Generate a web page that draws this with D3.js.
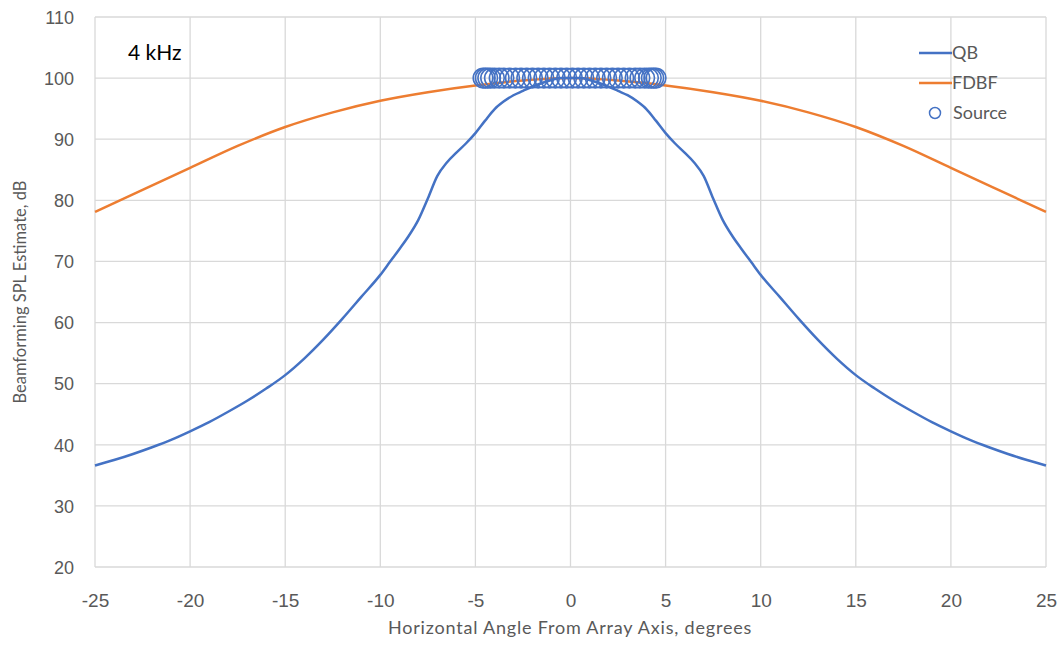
<!DOCTYPE html>
<html>
<head>
<meta charset="utf-8">
<script src="https://cdn.jsdelivr.net/npm/d3@7/dist/d3.min.js"></script>
<style>
  html, body { margin: 0; padding: 0; background: #fff; }
  svg { display: block; }
</style>
</head>
<body>
<svg id="chart" width="1062" height="654"></svg>
<script>
// ---- data ----
const xTicks = [-25, -20, -15, -10, -5, 0, 5, 10, 15, 20, 25];
const yTicks = [20, 30, 40, 50, 60, 70, 80, 90, 100, 110];

const qbAngles = [-25, -24, -23, -22, -21, -20, -19, -18, -17, -16, -15, -14, -13, -12, -11, -10, -9.5, -9, -8.5, -8, -7.5, -7, -6.5, -6, -5.5, -5, -4.5, -4, -3.5, -3, -2.5, -2, -1.5, -1, -0.5, 0,
                  0.5, 1, 1.5, 2, 2.5, 3, 3.5, 4, 4.5, 5, 5.5, 6, 6.5, 7, 7.5, 8, 8.5, 9, 9.5, 10, 11, 12, 13, 14, 15, 16, 17, 18, 19, 20, 21, 22, 23, 24, 25];
const qbValues = [36.6, 37.5, 38.5, 39.6, 40.8, 42.2, 43.7, 45.4, 47.2, 49.2, 51.4, 54.1, 57.2, 60.6, 64.2, 67.8, 69.9, 72.0, 74.2, 76.8, 80.3, 84.0, 86.2, 87.8, 89.3, 91.0, 93.0, 94.9, 96.2, 97.2, 97.9, 98.6, 99.2, 99.7, 100.0, 100.0,
                  100.0, 99.7, 99.2, 98.6, 97.9, 97.2, 96.2, 94.9, 93.0, 91.0, 89.3, 87.8, 86.2, 84.0, 80.3, 76.8, 74.2, 72.0, 69.9, 67.8, 64.2, 60.6, 57.2, 54.1, 51.4, 49.2, 47.2, 45.4, 43.7, 42.2, 40.8, 39.6, 38.5, 37.5, 36.6];

const fdbfAngles = [-25, -22.5, -20, -17.5, -15, -12.5, -10, -7.5, -5, -2.5, 0, 2.5, 5, 7.5, 10, 12.5, 15, 17.5, 20, 22.5, 25];
const fdbfValues = [78.1, 81.7, 85.3, 88.9, 92.0, 94.4, 96.3, 97.7, 98.8, 99.6, 100.0, 99.6, 98.8, 97.7, 96.3, 94.4, 92.0, 88.9, 85.3, 81.7, 78.1];

const sourceAngles = [-4.6, -4.48, -4.35, -4.2, -4.0, -3.75, -3.5, -3.2, -2.9, -2.6, -2.3, -2.0, -1.7, -1.4, -1.1, -0.8, -0.5, -0.2, 0.1, 0.4, 0.7, 1.0, 1.3, 1.6, 1.9, 2.2, 2.5, 2.8, 3.1, 3.4, 3.65, 3.9, 4.1, 4.25, 4.38, 4.5];
const sourceValues = sourceAngles.map(() => 100);

const seriesNames = ["QB", "FDBF", "Source"];

// ---- layout ----
const svg = d3.select("#chart");
const L = 95, R = 1046, T = 17, B = 567;
const x = d3.scaleLinear().domain([-25, 25]).range([L, R]);
const y = d3.scaleLinear().domain([20, 110]).range([B, T]);

const blue = "#4472C4", orange = "#ED7D31", grid = "#d9d9d9", txt = "#595959";
const tickFont = "'Liberation Sans', Arial, sans-serif";
const labFont = "Lato, 'Noto Sans', sans-serif";

// grid
svg.append("g").selectAll("line").data(yTicks).join("line")
  .attr("x1", L).attr("x2", R).attr("y1", d => y(d)).attr("y2", d => y(d))
  .attr("stroke", grid).attr("stroke-width", 1.3);
svg.append("g").selectAll("line").data(xTicks).join("line")
  .attr("y1", T).attr("y2", B).attr("x1", d => x(d)).attr("x2", d => x(d))
  .attr("stroke", grid).attr("stroke-width", 1.3);

// axes (text only)
const xAxis = d3.axisBottom(x).tickValues(xTicks).tickSize(0).tickPadding(0).tickFormat(d => String(d));
const gx = svg.append("g").attr("transform", `translate(0,${B})`).call(xAxis);
gx.select(".domain").remove();
gx.selectAll("text").attr("dy", null).attr("y", 40)
  .attr("font-family", tickFont).attr("font-size", 19).attr("fill", txt);

const yAxis = d3.axisLeft(y).tickValues(yTicks).tickSize(0).tickPadding(0).tickFormat(d => String(d));
const gy = svg.append("g").attr("transform", `translate(74,0)`).call(yAxis);
gy.select(".domain").remove();
gy.selectAll("text").attr("dy", "0.35em")
  .attr("font-family", tickFont).attr("font-size", 18).attr("fill", txt);

// lines
const line = d3.line().x(d => x(d[0])).y(d => y(d[1])).curve(d3.curveMonotoneX);
svg.append("path").datum(fdbfAngles.map((a, i) => [a, fdbfValues[i]]))
  .attr("d", line).attr("fill", "none").attr("stroke", orange).attr("stroke-width", 2.5);
svg.append("path").datum(qbAngles.map((a, i) => [a, qbValues[i]]))
  .attr("d", line).attr("fill", "none").attr("stroke", blue).attr("stroke-width", 2.5);

// sources
svg.append("g").selectAll("circle").data(sourceAngles.map((a, i) => [a, sourceValues[i]])).join("circle")
  .attr("cx", d => x(d[0])).attr("cy", d => y(d[1])).attr("r", 9.8)
  .attr("fill", "none").attr("stroke", blue).attr("stroke-width", 1.6);

// annotation
svg.append("text").attr("x", 128).attr("y", 60).text("4 kHz")
  .attr("font-family", labFont).attr("font-size", 21).attr("fill", "#000");

// axis titles
svg.append("text").attr("x", 570).attr("y", 634).attr("text-anchor", "middle")
  .text("Horizontal Angle From Array Axis, degrees")
  .attr("font-family", labFont).attr("font-size", 18).attr("letter-spacing", 0.8).attr("fill", txt);
svg.append("text").attr("transform", `translate(26,${(T + B) / 2}) rotate(-90)`).attr("text-anchor", "middle")
  .text("Beamforming SPL Estimate, dB")
  .attr("font-family", labFont).attr("font-size", 16.5).attr("fill", txt);

// legend
const lg = svg.append("g");
const ly = [53, 83, 113];
lg.append("line").attr("x1", 919).attr("x2", 952).attr("y1", ly[0]).attr("y2", ly[0]).attr("stroke", blue).attr("stroke-width", 2.5);
lg.append("line").attr("x1", 919).attr("x2", 952).attr("y1", ly[1]).attr("y2", ly[1]).attr("stroke", orange).attr("stroke-width", 2.5);
lg.append("circle").attr("cx", 935).attr("cy", ly[2]).attr("r", 5.5).attr("fill", "#fff").attr("stroke", blue).attr("stroke-width", 1.5);
lg.selectAll("text").data(seriesNames).join("text")
  .attr("x", (d, i) => i === 2 ? 953 : 952).attr("y", (d, i) => ly[i]).attr("dy", "0.35em")
  .text(d => d).attr("font-family", labFont).attr("font-size", 18).attr("fill", txt);
</script>
</body>
</html>
